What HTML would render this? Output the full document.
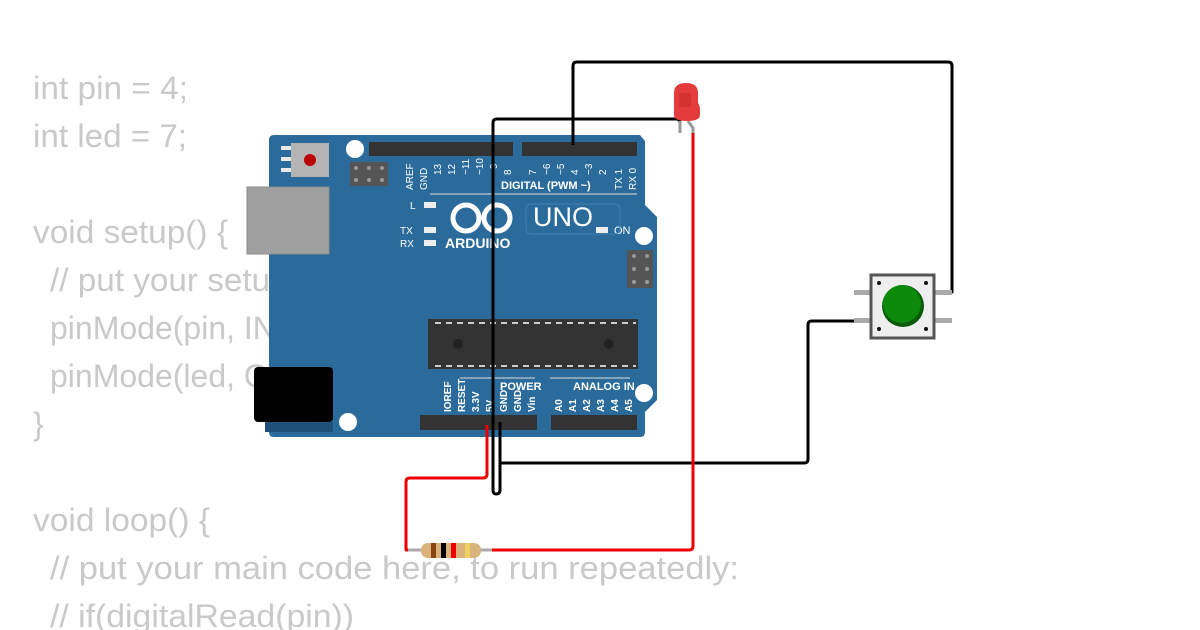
<!DOCTYPE html>
<html><head><meta charset="utf-8"><style>
html,body{margin:0;padding:0;background:#fff;width:1200px;height:630px;overflow:hidden}
svg{display:block}
</style></head><body>
<svg width="1200" height="630" viewBox="0 0 1200 630" xmlns="http://www.w3.org/2000/svg">
<g font-family="Liberation Sans, sans-serif" font-size="32" fill="#c9c9c9">
<text x="33" y="99" textLength="155" lengthAdjust="spacingAndGlyphs">int pin = 4;</text>
<text x="33" y="147" textLength="154" lengthAdjust="spacingAndGlyphs">int led = 7;</text>
<text x="33" y="243" textLength="195" lengthAdjust="spacingAndGlyphs">void setup() {</text>
<text x="50" y="291" textLength="590" lengthAdjust="spacingAndGlyphs">// put your setup code here, to run once:</text>
<text x="50" y="339">pinMode(pin, INPUT);</text>
<text x="50" y="387">pinMode(led, OUTPUT);</text>
<text x="33" y="435">}</text>
<text x="33" y="531" textLength="177" lengthAdjust="spacingAndGlyphs">void loop() {</text>
<text x="50" y="579" textLength="689" lengthAdjust="spacingAndGlyphs">// put your main code here, to run repeatedly:</text>
<text x="50" y="627" textLength="304" lengthAdjust="spacingAndGlyphs">// if(digitalRead(pin))</text>
</g>
<!-- board -->
<path d="M274 135 H640 L645 141 V205 L657 217 V400 L645 412 V432 Q645 437 640 437 H274 Q269 437 269 432 V140 Q269 135 274 135 Z" fill="#2b6b9b"/>
<rect x="247" y="187" width="82" height="67" fill="#a0a0a0" stroke="#8a8a8a"/>
<rect x="254" y="367" width="79" height="55" rx="4" fill="#000"/>
<rect x="265" y="422" width="68" height="10" fill="#1d4f78"/>
<rect x="291" y="143" width="38" height="34" fill="#b4b4b4"/>
<circle cx="310" cy="160" r="6" fill="#b00"/>
<g fill="#e8e8e8"><rect x="281" y="146" width="10" height="4"/><rect x="281" y="157" width="10" height="4"/><rect x="281" y="168" width="10" height="4"/></g>
<g fill="#fff"><circle cx="355" cy="149" r="9"/><circle cx="644" cy="236" r="9"/><circle cx="644" cy="393" r="9"/><circle cx="348" cy="422" r="9"/></g>
<g fill="#555"><rect x="350" y="162" width="38" height="24"/><rect x="627" y="250" width="26" height="38"/></g>
<g fill="#999"><circle cx="356" cy="168" r="2"/><circle cx="369" cy="168" r="2"/><circle cx="382" cy="168" r="2"/><circle cx="356" cy="180" r="2"/><circle cx="369" cy="180" r="2"/><circle cx="382" cy="180" r="2"/>
<circle cx="634" cy="256" r="2"/><circle cx="647" cy="256" r="2"/><circle cx="634" cy="269" r="2"/><circle cx="647" cy="269" r="2"/><circle cx="634" cy="282" r="2"/><circle cx="647" cy="282" r="2"/></g>
<g fill="#333"><rect x="369" y="142" width="144" height="14"/><rect x="522" y="142" width="115" height="14"/><rect x="420" y="415" width="117" height="15"/><rect x="551" y="415" width="86" height="15"/></g>
<rect x="428" y="319" width="210" height="50" fill="#333"/>
<g fill="#222"><circle cx="458" cy="344" r="5"/><circle cx="609" cy="344" r="5"/></g>
<g stroke="#fff" stroke-width="1.5" stroke-dasharray="6 5"><line x1="435" y1="323" x2="636" y2="323"/><line x1="435" y1="366" x2="636" y2="366"/></g>
<g stroke="#ddd" stroke-width="1"><line x1="430" y1="194" x2="637" y2="194"/><line x1="460" y1="378" x2="535" y2="378"/><line x1="550" y1="378" x2="630" y2="378"/></g>
<g fill="#eee"><rect x="424" y="202" width="12" height="6"/><rect x="424" y="227" width="12" height="6"/><rect x="424" y="240" width="12" height="6"/><rect x="596" y="227" width="12" height="6"/></g>
<g font-family="Liberation Sans, sans-serif" fill="#fff">
<text x="501" y="189" font-size="11" font-weight="bold">DIGITAL (PWM ~)</text>
<text x="410" y="209" font-size="10">L</text><text x="400" y="234" font-size="10">TX</text><text x="400" y="247" font-size="10">RX</text>
<text x="614" y="234" font-size="11">ON</text>
<text x="445" y="248" font-size="14" font-weight="bold">ARDUINO</text>
<text x="533" y="226" font-size="27">UNO</text>
<text x="500" y="390" font-size="11" font-weight="bold">POWER</text>
<text x="573" y="390" font-size="11" font-weight="bold">ANALOG IN</text>
</g>
<rect x="526" y="204" width="94" height="30" rx="5" fill="none" stroke="#3f80b0"/>
<g fill="none" stroke="#fff" stroke-width="5"><circle cx="466" cy="218" r="13"/><circle cx="497" cy="218" r="13"/></g>
<g font-family="Liberation Sans, sans-serif" font-size="10" fill="#fff">
<text transform="translate(413,190) rotate(-90)">AREF</text><text transform="translate(427,190) rotate(-90)">GND</text>
<text transform="translate(441,175) rotate(-90)">13</text><text transform="translate(455,175) rotate(-90)">12</text>
<text transform="translate(469,175) rotate(-90)">~11</text><text transform="translate(483,175) rotate(-90)">~10</text>
<text transform="translate(497,175) rotate(-90)">~9</text><text transform="translate(511,175) rotate(-90)">8</text>
<text transform="translate(536,175) rotate(-90)">7</text><text transform="translate(550,175) rotate(-90)">~6</text>
<text transform="translate(564,175) rotate(-90)">~5</text><text transform="translate(578,175) rotate(-90)">4</text>
<text transform="translate(592,175) rotate(-90)">~3</text><text transform="translate(606,175) rotate(-90)">2</text>
<text transform="translate(622,190) rotate(-90)">TX 1</text><text transform="translate(636,190) rotate(-90)">RX 0</text>
<g font-weight="bold"><text transform="translate(451,412) rotate(-90)">IOREF</text><text transform="translate(465,412) rotate(-90)">RESET</text>
<text transform="translate(479,412) rotate(-90)">3.3V</text><text transform="translate(493,412) rotate(-90)">5V</text>
<text transform="translate(507,412) rotate(-90)">GND</text><text transform="translate(521,412) rotate(-90)">GND</text>
<text transform="translate(535,412) rotate(-90)">Vin</text>
<text transform="translate(562,412) rotate(-90)">A0</text><text transform="translate(576,412) rotate(-90)">A1</text>
<text transform="translate(590,412) rotate(-90)">A2</text><text transform="translate(604,412) rotate(-90)">A3</text>
<text transform="translate(618,412) rotate(-90)">A4</text><text transform="translate(632,412) rotate(-90)">A5</text></g>
</g>
<!-- wires -->
<g fill="none" stroke-width="3" stroke-linejoin="round">
<path d="M573 145 V66 Q573 62 577 62 H948 Q952 62 952 66 V292 H940" stroke="#000"/>
<path d="M500 422 V490 Q500 494 496 494 Q493 494 493 490 V123 Q493 119 497 119 H676 Q680 119 680 123 V133" stroke="#000"/>
<path d="M500 463 H804 Q808 463 808 459 V325 Q808 321 812 321 H856" stroke="#000"/>
<path d="M487 425 V474 Q487 478 483 478 H410 Q406 478 406 482 V550 H420" stroke="#e00"/>
<path d="M485 550 H689 Q693 550 693 546 V132" stroke="#e00"/>
</g>
<!-- resistor -->
<line x1="408" y1="550" x2="492" y2="550" stroke="#aaa" stroke-width="3"/>
<rect x="421" y="543" width="60" height="15" rx="7" fill="#d9b27c"/>
<rect x="431" y="543" width="5" height="15" fill="#8b4513"/>
<rect x="441" y="543" width="5" height="15" fill="#000"/>
<rect x="451" y="543" width="5" height="15" fill="#e00"/>
<rect x="465" y="543" width="5" height="15" fill="#f0d060"/>
<!-- LED -->
<path d="M688 121 L693 128 V133" stroke="#999" stroke-width="3" fill="none"/>
<path d="M680 121 V133" stroke="#999" stroke-width="3"/>
<path d="M674 115 V93 Q674 83 686 83 Q698 83 698 93 V103 Q700 106 700 110 V115 Q700 121 687 121 Q674 121 674 115 Z" fill="#e43c3c"/>
<rect x="679" y="93" width="12" height="14" fill="#c92a2a" opacity="0.6"/>
<!-- button -->
<g fill="#aaa"><rect x="854" y="290" width="18" height="5"/><rect x="854" y="318" width="18" height="5"/><rect x="934" y="290" width="18" height="5"/><rect x="934" y="318" width="18" height="5"/></g>
<rect x="871" y="275" width="63" height="63" fill="#eee" stroke="#555" stroke-width="3"/>
<circle cx="903" cy="306" r="21" fill="#0a5a0a"/>
<circle cx="902" cy="304" r="19" fill="#0b8a0b"/>
<g fill="#111"><circle cx="879" cy="283" r="2"/><circle cx="926" cy="283" r="2"/><circle cx="879" cy="329" r="2"/><circle cx="926" cy="329" r="2"/></g>
</svg>
</body></html>
